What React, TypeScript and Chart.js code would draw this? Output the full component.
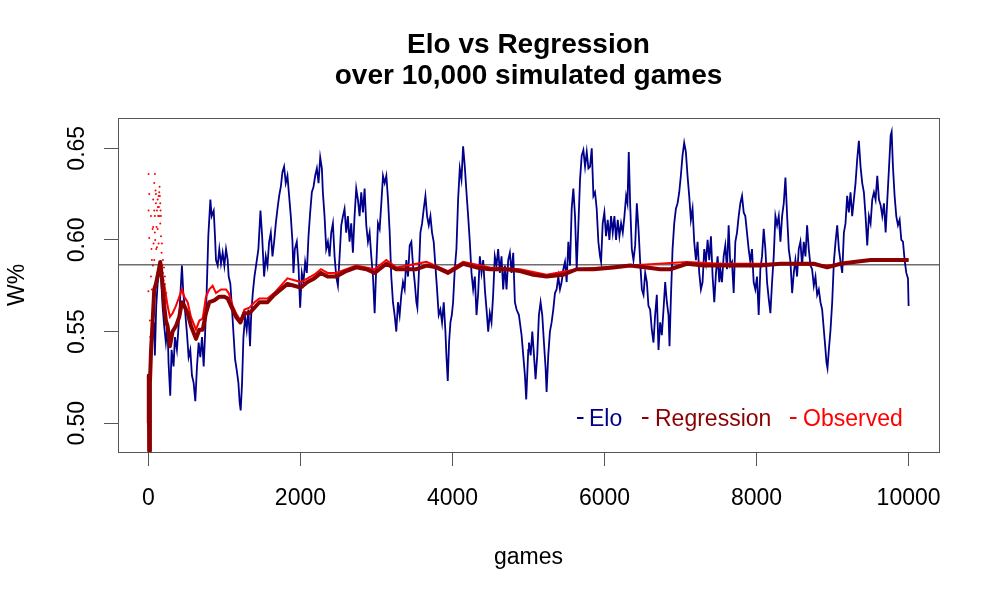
import { useEffect, useRef } from 'react';
import Chart from 'chart.js/auto';

// Elo estimate
const eloGames = [
  0, 24, 55, 77, 85, 103, 121, 156, 186, 208, 230, 252, 265, 287, 305, 331, 349, 375, 397, 419,
  441, 459, 481, 507, 529, 551, 573, 595, 617, 639, 661, 683, 705, 727, 744, 766, 788, 815, 832, 859,
  876, 889, 911, 933, 955, 977, 999, 1021, 1043, 1056, 1078, 1100, 1122, 1140, 1162, 1184, 1201, 1214, 1232, 1250,
  1272, 1293, 1315, 1337, 1351, 1373, 1395, 1416, 1447, 1474, 1496, 1522, 1544, 1566, 1588, 1610, 1632, 1654, 1676, 1698,
  1720, 1742, 1763, 1785, 1807, 1829, 1851, 1873, 1895, 1908, 1926, 1952, 1974, 1996, 2018, 2040, 2062, 2084, 2106, 2128,
  2150, 2172, 2194, 2216, 2238, 2260, 2282, 2295, 2317, 2339, 2361, 2383, 2405, 2427, 2449, 2471, 2493, 2515, 2537, 2559,
  2580, 2602, 2624, 2646, 2668, 2690, 2712, 2734, 2756, 2778, 2800, 2822, 2844, 2866, 2888, 2910, 2932, 2954, 2976, 2998,
  3020, 3042, 3064, 3086, 3108, 3130, 3152, 3174, 3195, 3217, 3239, 3261, 3283, 3305, 3327, 3349, 3371, 3393, 3415, 3437,
  3459, 3481, 3503, 3525, 3538, 3556, 3578, 3600, 3622, 3644, 3666, 3688, 3710, 3731, 3753, 3775, 3797, 3819, 3841, 3863,
  3885, 3907, 3920, 3938, 3955, 3973, 3991, 4008, 4030, 4052, 4074, 4096, 4118, 4140, 4162, 4184, 4206, 4228, 4250, 4272,
  4294, 4316, 4338, 4360, 4382, 4404, 4426, 4448, 4470, 4491, 4513, 4535, 4557, 4579, 4601, 4623, 4645, 4667, 4689, 4711,
  4733, 4755, 4777, 4799, 4821, 4843, 4874, 4909, 4931, 4953, 4970, 4997, 5006, 5028, 5050, 5072, 5093, 5115, 5137, 5159,
  5181, 5203, 5225, 5238, 5260, 5282, 5304, 5326, 5348, 5370, 5392, 5414, 5436, 5458, 5480, 5502, 5524, 5546, 5568, 5590,
  5612, 5634, 5656, 5678, 5700, 5722, 5744, 5766, 5788, 5810, 5832, 5854, 5875, 5897, 5919, 5941, 5955, 5976, 5998, 6020,
  6042, 6064, 6086, 6108, 6130, 6152, 6174, 6196, 6218, 6240, 6262, 6284, 6302, 6319, 6337, 6359, 6381, 6403, 6425, 6447,
  6469, 6491, 6513, 6535, 6557, 6578, 6600, 6622, 6644, 6666, 6688, 6710, 6732, 6754, 6776, 6798, 6820, 6842, 6855, 6873,
  6895, 6917, 6939, 6961, 6983, 7004, 7026, 7048, 7070, 7092, 7114, 7136, 7158, 7180, 7202, 7224, 7246, 7268, 7290, 7312,
  7334, 7356, 7378, 7400, 7422, 7444, 7466, 7488, 7510, 7523, 7545, 7567, 7589, 7611, 7633, 7655, 7677, 7699, 7721, 7743,
  7765, 7787, 7809, 7831, 7852, 7874, 7896, 7918, 7940, 7962, 7984, 8006, 8028, 8050, 8072, 8094, 8116, 8138, 8160, 8182,
  8204, 8226, 8248, 8270, 8292, 8314, 8336, 8358, 8380, 8402, 8424, 8446, 8468, 8490, 8511, 8533, 8555, 8577, 8599, 8621,
  8643, 8665, 8687, 8709, 8731, 8753, 8775, 8797, 8819, 8841, 8863, 8885, 8907, 8920, 8933, 8951, 8973, 8995, 9017, 9039,
  9061, 9083, 9105, 9127, 9149, 9170, 9192, 9214, 9236, 9258, 9280, 9302, 9324, 9346, 9368, 9390, 9412, 9434, 9456, 9478,
  9500, 9522, 9544, 9566, 9588, 9610, 9632, 9654, 9676, 9698, 9720, 9742, 9764, 9777, 9794, 9816, 9838, 9860, 9882, 9904,
  9926, 9948, 9970, 9992, 10000,
];
const eloValues = [
  0.500, 0.531, 0.547, 0.555, 0.537, 0.564, 0.576, 0.587, 0.564, 0.553, 0.544, 0.553, 0.533, 0.515, 0.540, 0.531, 0.547, 0.540, 0.553, 0.569,
  0.586, 0.571, 0.562, 0.549, 0.536, 0.540, 0.526, 0.522, 0.512, 0.531, 0.544, 0.536, 0.547, 0.531, 0.547, 0.571, 0.602, 0.622, 0.613, 0.616,
  0.602, 0.589, 0.586, 0.595, 0.587, 0.593, 0.586, 0.595, 0.589, 0.580, 0.576, 0.562, 0.547, 0.535, 0.529, 0.522, 0.511, 0.507, 0.522, 0.547,
  0.558, 0.551, 0.562, 0.542, 0.558, 0.571, 0.580, 0.586, 0.595, 0.616, 0.602, 0.580, 0.591, 0.586, 0.599, 0.604, 0.591, 0.599, 0.609, 0.617,
  0.624, 0.629, 0.637, 0.640, 0.631, 0.635, 0.624, 0.613, 0.599, 0.582, 0.595, 0.599, 0.586, 0.563, 0.582, 0.577, 0.588, 0.582, 0.602, 0.615,
  0.626, 0.629, 0.635, 0.639, 0.631, 0.645, 0.639, 0.626, 0.613, 0.595, 0.599, 0.591, 0.604, 0.609, 0.591, 0.580, 0.575, 0.591, 0.608, 0.613,
  0.617, 0.604, 0.613, 0.599, 0.609, 0.593, 0.613, 0.628, 0.622, 0.613, 0.626, 0.615, 0.628, 0.608, 0.599, 0.604, 0.591, 0.580, 0.560, 0.586,
  0.609, 0.606, 0.620, 0.635, 0.631, 0.635, 0.622, 0.604, 0.580, 0.566, 0.559, 0.550, 0.566, 0.559, 0.570, 0.577, 0.573, 0.589, 0.580, 0.597,
  0.599, 0.586, 0.577, 0.566, 0.563, 0.580, 0.604, 0.609, 0.617, 0.624, 0.613, 0.608, 0.613, 0.604, 0.599, 0.586, 0.573, 0.559, 0.562, 0.555,
  0.566, 0.550, 0.537, 0.523, 0.544, 0.555, 0.559, 0.566, 0.584, 0.595, 0.622, 0.639, 0.633, 0.651, 0.640, 0.626, 0.613, 0.599, 0.582, 0.573,
  0.580, 0.559, 0.571, 0.591, 0.582, 0.589, 0.573, 0.562, 0.550, 0.560, 0.555, 0.570, 0.591, 0.586, 0.595, 0.582, 0.591, 0.573, 0.586, 0.573,
  0.589, 0.593, 0.582, 0.593, 0.566, 0.562, 0.559, 0.548, 0.537, 0.526, 0.513, 0.540, 0.544, 0.537, 0.550, 0.537, 0.524, 0.537, 0.559, 0.566,
  0.559, 0.544, 0.530, 0.517, 0.537, 0.550, 0.555, 0.562, 0.571, 0.573, 0.580, 0.573, 0.577, 0.584, 0.588, 0.577, 0.599, 0.586, 0.617, 0.628,
  0.613, 0.584, 0.608, 0.633, 0.646, 0.649, 0.640, 0.648, 0.639, 0.640, 0.650, 0.624, 0.626, 0.617, 0.599, 0.591, 0.588, 0.609, 0.615, 0.602,
  0.611, 0.600, 0.613, 0.604, 0.613, 0.600, 0.611, 0.602, 0.609, 0.604, 0.613, 0.624, 0.620, 0.648, 0.620, 0.595, 0.589, 0.597, 0.620, 0.606,
  0.588, 0.573, 0.570, 0.582, 0.577, 0.564, 0.562, 0.551, 0.544, 0.559, 0.570, 0.540, 0.555, 0.548, 0.562, 0.577, 0.566, 0.559, 0.542, 0.568,
  0.595, 0.609, 0.617, 0.620, 0.626, 0.635, 0.646, 0.653, 0.648, 0.635, 0.624, 0.611, 0.617, 0.599, 0.589, 0.599, 0.582, 0.573, 0.577, 0.595,
  0.588, 0.600, 0.589, 0.602, 0.580, 0.566, 0.582, 0.591, 0.577, 0.584, 0.577, 0.591, 0.597, 0.584, 0.608, 0.586, 0.588, 0.571, 0.599, 0.604,
  0.613, 0.620, 0.624, 0.615, 0.613, 0.604, 0.595, 0.588, 0.595, 0.577, 0.573, 0.580, 0.559, 0.584, 0.591, 0.606, 0.595, 0.577, 0.568, 0.560,
  0.577, 0.591, 0.613, 0.608, 0.613, 0.599, 0.613, 0.620, 0.634, 0.613, 0.595, 0.588, 0.571, 0.582, 0.589, 0.580, 0.595, 0.599, 0.586, 0.599,
  0.591, 0.608, 0.595, 0.586, 0.584, 0.575, 0.580, 0.570, 0.573, 0.566, 0.562, 0.551, 0.540, 0.533, 0.530, 0.540, 0.551, 0.566, 0.588, 0.599,
  0.608, 0.595, 0.588, 0.582, 0.604, 0.609, 0.624, 0.615, 0.626, 0.613, 0.622, 0.631, 0.644, 0.654, 0.640, 0.631, 0.626, 0.613, 0.597, 0.613,
  0.609, 0.622, 0.626, 0.622, 0.635, 0.622, 0.619, 0.613, 0.620, 0.604, 0.622, 0.639, 0.657, 0.659, 0.640, 0.624, 0.613, 0.608, 0.611, 0.600,
  0.599, 0.589, 0.582, 0.579, 0.564,
];

// Regression estimate
const regGames = [
  0, 5, 10, 20, 35, 55, 77, 99, 129, 156, 186, 208, 230, 252, 283, 318, 362, 406, 441, 472,
  516, 560, 626, 670, 714, 757, 801, 867, 933, 999, 1043, 1087, 1153, 1210, 1263, 1329, 1395, 1460, 1566, 1654,
  1742, 1829, 1917, 2005, 2093, 2181, 2269, 2357, 2471, 2602, 2734, 2866, 2976, 3130, 3261, 3393, 3525, 3657, 3789, 3942,
  4140, 4316, 4491, 4711, 4887, 5063, 5238, 5458, 5634, 5854, 6117, 6337, 6557, 6732, 6864, 7083, 7303, 7523, 7787, 8050,
  8314, 8577, 8753, 8929, 9105, 9280, 9500, 9764, 10000,
];
const regValues = [
  0.500, 0.526, 0.485, 0.522, 0.540, 0.555, 0.573, 0.576, 0.582, 0.588, 0.576, 0.564, 0.556, 0.553, 0.542, 0.550, 0.553, 0.558, 0.566, 0.564,
  0.560, 0.553, 0.546, 0.551, 0.551, 0.560, 0.566, 0.567, 0.569, 0.569, 0.568, 0.564, 0.558, 0.555, 0.560, 0.560, 0.563, 0.566, 0.566, 0.570,
  0.573, 0.576, 0.575, 0.574, 0.577, 0.579, 0.582, 0.580, 0.580, 0.583, 0.585, 0.584, 0.582, 0.587, 0.584, 0.584, 0.584, 0.586, 0.585, 0.582,
  0.587, 0.585, 0.584, 0.584, 0.583, 0.581, 0.580, 0.581, 0.584, 0.584, 0.585, 0.586, 0.585, 0.584, 0.584, 0.587, 0.586, 0.586, 0.586, 0.586,
  0.587, 0.587, 0.587, 0.585, 0.587, 0.588, 0.589, 0.589, 0.589,
];

// Observed running win rate (line part)
const obsGames = [
  208, 252, 283, 318, 362, 406, 441, 472, 516, 560, 626, 670, 714, 757, 801, 845, 889, 955, 1021, 1056,
  1109, 1153, 1210, 1263, 1329, 1395, 1460, 1566, 1654, 1829, 2005, 2181, 2269, 2357, 2471, 2734, 2976, 3130, 3261, 3657,
  3942, 4140, 4491, 4887, 5238, 5634, 6337, 7083, 7523, 8314, 8929, 9500, 10000,
];
const obsValues = [
  0.576, 0.564, 0.558, 0.560, 0.564, 0.569, 0.573, 0.569, 0.566, 0.558, 0.551, 0.556, 0.557, 0.569, 0.573, 0.575, 0.571, 0.573, 0.573, 0.571,
  0.564, 0.560, 0.556, 0.562, 0.563, 0.566, 0.568, 0.568, 0.571, 0.579, 0.577, 0.581, 0.584, 0.582, 0.582, 0.586, 0.584, 0.589, 0.585, 0.588,
  0.583, 0.588, 0.585, 0.584, 0.581, 0.584, 0.586, 0.588, 0.587, 0.587, 0.586, 0.589, 0.589,
];

// Observed, first games (scattered points)
const obsDotGames = [
  2, 85, 2, 11, 0, 19, 33, 41, 55, 63, 77, 77, 85, 90, 99, 107, 112, 121, 129, 138,
  143, 151, 156, 160, 165, 173, 182, 191, 200, 208, 217, 226, 46, 68, 24, 94, 121, 134, 147, 103,
  59, 116, 11, 33, 46, 63, 77, 85, 99, 112, 125, 134, 143, 156, 165, 178, 191, 204, 217, 235,
  252,
];
const obsDotValues = [
  0.636, 0.636, 0.616, 0.601, 0.572, 0.556, 0.580, 0.595, 0.606, 0.622, 0.631, 0.589, 0.613, 0.600, 0.620, 0.607, 0.616, 0.622, 0.613, 0.618,
  0.626, 0.624, 0.609, 0.616, 0.602, 0.593, 0.586, 0.582, 0.578, 0.573, 0.576, 0.567, 0.573, 0.598, 0.547, 0.627, 0.606, 0.598, 0.629, 0.595,
  0.586, 0.582, 0.625, 0.613, 0.589, 0.607, 0.616, 0.604, 0.625, 0.596, 0.618, 0.624, 0.613, 0.620, 0.613, 0.598, 0.589, 0.585, 0.580, 0.571,
  0.564,
];

const meanLevel = 0.5865;
const xTicks = [0, 2000, 4000, 6000, 8000, 10000];
const yTicks = [0.5, 0.55, 0.6, 0.65];

const FONT = "'Liberation Sans', Arial, Helvetica, sans-serif";

const legendItems = [
  { label: 'Elo', color: '#00008B', dashX: 577, textX: 589 },
  { label: 'Regression', color: '#8B0000', dashX: 642, textX: 655 },
  { label: 'Observed', color: '#FF0000', dashX: 790, textX: 803 },
];

const toPoints = (xs: number[], ys: number[]) => xs.map((x, i) => ({ x, y: ys[i] }));

const frameAndLegend = {
  id: 'frameAndLegend',
  afterDraw(chart: Chart) {
    const { ctx, chartArea: a } = chart;
    ctx.save();
    ctx.strokeStyle = '#555';
    ctx.lineWidth = 1;
    ctx.strokeRect(Math.round(a.left) + 0.5, Math.round(a.top) + 0.5, Math.round(a.right - a.left), Math.round(a.bottom - a.top));
    ctx.font = `23px ${FONT}`;
    ctx.textBaseline = 'alphabetic';
    ctx.textAlign = 'left';
    legendItems.forEach((it) => {
      ctx.fillStyle = it.color;
      ctx.fillRect(it.dashX, 417, 6.5, 2);
      ctx.fillText(it.label, it.textX, 426);
    });
    ctx.restore();
  },
};

export default function App() {
  const canvasRef = useRef<HTMLCanvasElement>(null);
  const chartRef = useRef<Chart | null>(null);

  useEffect(() => {
    if (!canvasRef.current) return;
    if (chartRef.current) chartRef.current.destroy();

    Chart.defaults.font.family = FONT;

    const axisGrid = {
      display: true,
      drawOnChartArea: false,
      drawTicks: true,
      tickLength: 14,
      tickColor: '#555',
      tickWidth: 1,
    };

    chartRef.current = new Chart(canvasRef.current, {
      type: 'line',
      data: {
        datasets: [
          {
            label: 'Regression',
            data: toPoints(regGames, regValues),
            borderColor: '#8B0000',
            borderWidth: 4,
            pointRadius: 0,
            borderJoinStyle: 'round',
          },
          {
            label: 'Observed',
            data: toPoints(obsGames, obsValues),
            borderColor: '#FF0000',
            borderWidth: 2,
            pointRadius: 0,
          },
          {
            label: 'Observed early',
            data: toPoints(obsDotGames, obsDotValues),
            showLine: false,
            pointRadius: 1,
            pointBorderWidth: 0,
            pointBackgroundColor: '#FF0000',
          },
          {
            label: 'Elo',
            data: toPoints(eloGames, eloValues),
            borderColor: '#00008B',
            borderWidth: 1.8,
            pointRadius: 0,
          },
          {
            label: 'mean',
            data: [{ x: -400, y: meanLevel }, { x: 10400, y: meanLevel }],
            borderColor: '#6e6e6e',
            borderWidth: 1.5,
            pointRadius: 0,
          },
        ],
      },
      options: {
        responsive: false,
        animation: false,
        devicePixelRatio: 1,
        layout: { padding: { top: 0, right: 61, bottom: 0, left: 0 } },
        plugins: {
          legend: { display: false },
          tooltip: { enabled: false },
          title: {
            display: true,
            fullSize: false,
            text: ['Elo vs Regression', 'over 10,000 simulated games'],
            color: '#000',
            font: { size: 28, weight: 'bold', lineHeight: 31 / 28 },
            padding: { top: 30, bottom: 26 },
          },
        },
        scales: {
          x: {
            type: 'linear',
            min: -400,
            max: 10400,
            afterBuildTicks: (s: any) => { s.ticks = xTicks.map((v) => ({ value: v })); },
            afterFit: (s: any) => { s.height = 148; },
            grid: axisGrid,
            border: { display: false },
            ticks: {
              color: '#000',
              font: { size: 23 },
              padding: 19,
              maxRotation: 0,
              autoSkip: false,
              callback: (v: any) => String(v),
            },
            title: {
              display: true,
              text: 'games',
              color: '#000',
              font: { size: 23 },
              padding: { top: 0, bottom: 29 },
            },
          },
          y: {
            type: 'linear',
            min: 0.4843,
            max: 0.6665,
            afterBuildTicks: (s: any) => { s.ticks = yTicks.map((v) => ({ value: v })); },
            afterFit: (s: any) => { s.width = 118; },
            grid: axisGrid,
            border: { display: false },
            ticks: {
              color: '#000',
              font: { size: 23 },
              padding: 4,
              minRotation: 90,
              maxRotation: 90,
              crossAlign: 'center',
              autoSkip: false,
              callback: (v: any) => Number(v).toFixed(2),
            },
            title: {
              display: true,
              text: 'W%',
              color: '#000',
              font: { size: 23 },
              padding: { top: 4, bottom: 0 },
            },
          },
        },
      },
      plugins: [frameAndLegend],
    });

    return () => {
      if (chartRef.current) {
        chartRef.current.destroy();
        chartRef.current = null;
      }
    };
  }, []);

  return (
    <div style={{ position: 'fixed', left: 0, top: 0, width: 1000, height: 600, background: '#fff' }}>
      <canvas ref={canvasRef} width={1000} height={600} style={{ display: 'block' }} />
    </div>
  );
}
